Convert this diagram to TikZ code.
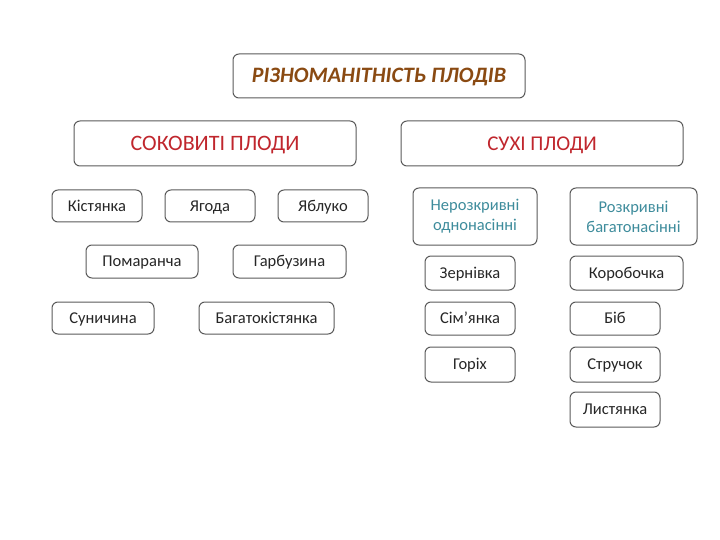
\documentclass[tikz,border=0pt]{standalone}
\usepackage{fontspec}
\setmainfont{Carlito}
\definecolor{bord}{HTML}{5A5A5A}
\definecolor{redt}{HTML}{C0262D}
\definecolor{titlec}{HTML}{8A4A12}
\definecolor{tealt}{HTML}{3E8C9C}
\tikzset{
  bx/.style={draw=bord, line width=1pt, rounded corners=6pt, fill=white, inner sep=0pt},
  sm/.style={bx, font=\fontsize{16.5}{18}\selectfont, text=black!85, text height=10.4pt, text depth=0pt},
  big/.style={bx, text=redt, text height=13.9pt, text depth=0pt},
}
\newcommand{\bxat}[6]{% name, x1, y1, x2, y2, style+text
  \node[#6, minimum width={#4pt-#2pt}, minimum height={#5pt-#3pt}] (#1) at ({(#2+#4)/2*1pt},{-(#3+#5)/2*1pt})}
\begin{document}
\begin{tikzpicture}[x=1pt,y=-1pt]
\useasboundingbox (0,0) rectangle (720,540);
\bxat{title}{233}{54}{525}{98}{bx, font=\fontsize{22}{24}\selectfont\bfseries\itshape, text=titlec, text height=14pt, text depth=0pt} {РІЗНОМАНІТНІСТЬ ПЛОДІВ};
\bxat{sok}{74}{121}{356}{166}{big, font=\fontsize{22}{24}\selectfont} {СОКОВИТІ ПЛОДИ};
\bxat{suh}{401}{121}{683}{166}{big, font=\fontsize{21}{24}\selectfont} {СУХІ ПЛОДИ};
\bxat{kist}{52}{190}{142}{222}{sm} {Кістянка};
\bxat{yagoda}{165}{190}{255}{222}{sm} {Ягода};
\bxat{yabl}{278}{190}{368}{222}{sm} {Яблуко};
\bxat{pom}{86}{245}{198}{278}{sm} {Помаранча};
\bxat{garb}{233}{245}{346}{278}{sm} {Гарбузина};
\bxat{sun}{52}{302}{154}{334}{sm} {Суничина};
\bxat{bagk}{199}{302}{334}{334}{sm} {Багатокістянка};
\bxat{nero}{413}{188}{537}{245}{bx, font=\fontsize{16.5}{20}\selectfont, text=tealt, align=center} {Нерозкривні\\однонасінні};
\bxat{rozk}{570}{188}{697}{245}{bx, font=\fontsize{16.5}{20}\selectfont, text=tealt, align=center} {Розкривні\\багатонасінні};
\bxat{zern}{425}{256}{515}{290}{sm} {Зернівка};
\bxat{sim}{425}{302}{515}{335}{sm} {Сім’янка};
\bxat{gor}{425}{347}{515}{382}{sm} {Горіх};
\bxat{kor}{570}{256}{683}{290}{sm} {Коробочка};
\bxat{bib}{570}{302}{660}{335}{sm} {Біб};
\bxat{str}{570}{347}{660}{382}{sm} {Стручок};
\bxat{lyst}{570}{392}{660}{427}{sm} {Листянка};
\end{tikzpicture}
\end{document}
